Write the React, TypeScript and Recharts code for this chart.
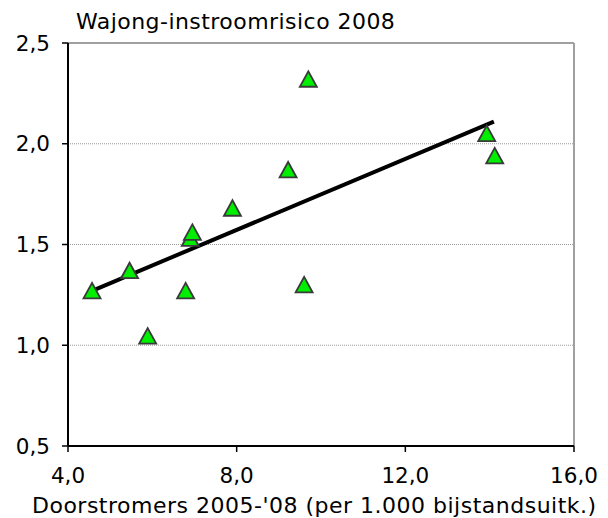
import { ScatterChart, Scatter, XAxis, YAxis, ReferenceLine } from "recharts";

const doorstromers = [4.57, 5.46, 5.89, 6.79, 6.9, 6.95, 7.9, 9.22, 9.6, 9.7, 13.93, 14.12];
const wajongRisico = [1.27, 1.37, 1.045, 1.27, 1.53, 1.56, 1.68, 1.87, 1.3, 2.32, 2.05, 1.94];
const trendX = [4.57, 14.1];
const trendY = [1.27, 2.11];
const xTicks = [4, 8, 12, 16];
const yTicks = [0.5, 1.0, 1.5, 2.0, 2.5];
const gridValues = [1.0, 1.5, 2.0];

const points = doorstromers.map((x, i) => ({ x, y: wajongRisico[i] }));
const trend = trendX.map((x, i) => ({ x, y: trendY[i] }));

const font = "'DejaVu Sans', Verdana, sans-serif";
const fmt = (v: number) => v.toFixed(1).replace(".", ",");

function Triangle(props: any) {
  const { cx, cy } = props;
  const w = 8.5;
  return (
    <polygon
      points={`${cx - w},${cy + 7.5} ${cx + w},${cy + 7.5} ${cx},${cy - 8}`}
      fill="#00EE00"
      stroke="#3a3a3a"
      strokeWidth={1.8}
    />
  );
}

export default function App() {
  return (
    <div style={{ position: "absolute", left: 0, top: 0, width: 608, height: 518, background: "#fff", fontFamily: font }}>
      <div style={{ position: "absolute", left: 76, top: 10, fontSize: 22, lineHeight: "24px", letterSpacing: 0.45, color: "#000", whiteSpace: "nowrap" }}>
        Wajong-instroomrisico 2008
      </div>
      <ScatterChart width={608} height={518} margin={{ top: 43, right: 34, left: 0, bottom: 32 }}>
        {gridValues.map((v) => (
          <ReferenceLine key={v} y={v} stroke="#999" strokeDasharray="1 1" strokeWidth={1} />
        ))}
        <ReferenceLine y={2.5} stroke="#a0a0a0" strokeWidth={2} />
        <ReferenceLine x={16} stroke="#a0a0a0" strokeWidth={2} />
        <XAxis
          type="number"
          dataKey="x"
          domain={[4, 16]}
          ticks={xTicks}
          tickFormatter={fmt}
          height={40}
          tickSize={6}
          tickMargin={16}
          axisLine={{ stroke: "#000", strokeWidth: 2 }}
          tickLine={{ stroke: "#000", strokeWidth: 1.5 }}
          tick={{ fill: "#000", fontSize: 21.5, fontFamily: font }}
        />
        <YAxis
          type="number"
          dataKey="y"
          domain={[0.5, 2.5]}
          ticks={yTicks}
          tickFormatter={fmt}
          width={68}
          tickSize={6}
          tickMargin={12}
          axisLine={{ stroke: "#000", strokeWidth: 2 }}
          tickLine={{ stroke: "#000", strokeWidth: 1.5 }}
          tick={{ fill: "#000", fontSize: 21.5, fontFamily: font }}
        />
        <Scatter
          data={trend}
          line={{ stroke: "#000", strokeWidth: 4 }}
          shape={() => <g />}
          isAnimationActive={false}
        />
        <Scatter data={points} shape={Triangle} isAnimationActive={false} />
      </ScatterChart>
      <div style={{ position: "absolute", left: 32, top: 494, fontSize: 22, lineHeight: "24px", letterSpacing: 0.5, color: "#000", whiteSpace: "nowrap" }}>
        Doorstromers 2005-'08 (per 1.000 bijstandsuitk.)
      </div>
    </div>
  );
}
